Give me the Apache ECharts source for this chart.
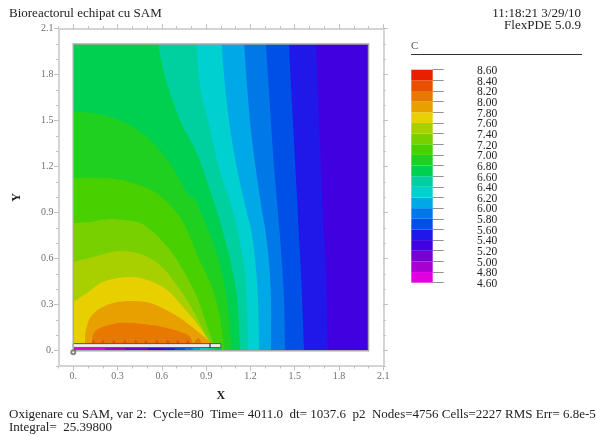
<!DOCTYPE html>
<html>
<head>
<meta charset="utf-8">
<style>
html,body{margin:0;padding:0;background:#fff}
#c{width:596px;height:437px;filter:blur(0.45px)}
</style>
<script src="https://cdn.jsdelivr.net/npm/echarts@6/dist/echarts.min.js"></script>
</head>
<body>
<div id="c"></div>
<script>
// ---- texts ----
const titleText = 'Bioreactorul echipat cu SAM';
const stampText = '11:18:21 3/29/10';
const versionText = 'FlexPDE 5.0.9';
const legendName = 'C';
const footerLine1 = 'Oxigenare cu SAM, var 2:  Cycle=80  Time= 4011.0  dt= 1037.6  p2  Nodes=4756 Cells=2227 RMS Err= 6.8e-5';
const footerLine2 = 'Integral=  25.39800';

// ---- axis ticks ----
const majorTicks = [0, 0.3, 0.6, 0.9, 1.2, 1.5, 1.8, 2.1];

// ---- colour bands, lowest (4.6-4.8) to highest (8.4-8.6) ----
const bandLevels = [4.6,4.8,5.0,5.2,5.4,5.6,5.8,6.0,6.2,6.4,6.6,6.8,7.0,7.2,7.4,7.6,7.8,8.0,8.2,8.4,8.6];
const bandColors = ['#e000e0','#a800d0','#7800d0','#4000e0','#2018e8','#0050e8','#0078e8','#00a8e8','#00d0d0','#00d0a0','#00d050','#20d020','#48d000','#78d000','#a8d000','#e8d000','#e8a000','#e87800','#e85000','#e82000'];

// ---- contour lines, [X, Y] ----
const domain = [[0,0],[2,0],[2,2],[0,2]];
const c54 = [[1.644,2],[1.665,1.504],[1.688,.95],[1.712,.493],[1.724,0]];
const c56 = [[1.461,2],[1.48,1.634],[1.518,.95],[1.543,.493],[1.563,0]];
const c58 = [[1.304,2],[1.326,1.686],[1.355,1.256],[1.382,.95],[1.407,.656],[1.428,.33],[1.434,0]];
const c60 = [[1.158,2],[1.175,1.752],[1.209,1.387],[1.272,.95],[1.304,.767],[1.328,.546],[1.339,.33],[1.339,0]];
const c62 = [[1.005,2],[1.021,1.797],[1.05,1.537],[1.095,1.256],[1.163,.95],[1.209,.767],[1.236,.546],[1.251,.33],[1.26,0]];
const c64 = [[.836,2],[.845,1.83],[.872,1.66],[.913,1.504],[.966,1.276],[1.021,1.08],[1.061,.982],[1.116,.767],[1.158,.546],[1.175,.33],[1.186,0]];
const c66 = [[.576,2],[.621,1.786],[.723,1.504],[.836,1.289],[.949,.982],[1.016,.767],[1.073,.546],[1.111,.33],[1.13,0]];
const c68 = [[0,1.563],[.201,1.537],[.384,1.471],[.52,1.374],[.655,1.224],[.77,1.028],[.825,.982],[.919,.774],[.993,.559],[1.041,.33],[1.073,0]];
const c70 = [[0,1.126],[.2,1.126],[.337,1.11],[.499,1.06],[.621,.982],[.743,.84],[.845,.611],[.939,.415],[.993,.22],[1.021,0]];
const c72 = [[0,.832],[.113,.839],[.249,.858],[.432,.839],[.54,.774],[.655,.656],[.743,.526],[.838,.35],[.892,.2],[.939,.07],[.953,.044]];
const c74 = [[0,.578],[.133,.611],[.316,.65],[.472,.624],[.587,.559],[.675,.461],[.77,.33],[.845,.2],[.913,.07],[.939,.044]];
const c76 = [[0,.317],[.093,.376],[.201,.448],[.364,.48],[.499,.461],[.635,.396],[.743,.285],[.845,.168],[.926,.057],[.935,.044]];
const c78 = [[.079,.044],[.086,.135],[.127,.233],[.228,.298],[.364,.324],[.52,.311],[.655,.252],[.77,.181],[.872,.102],[.939,.05]];
const c80 = [[.133,.044],[.133,.102],[.181,.148],[.316,.181],[.472,.174],[.635,.148],[.777,.102],[.811,.05],[.845,.083],[.872,.044]];
const contours = [domain,c54,c56,c58,c60,c62,c64,c66,c68,c70,c72,c74,c76,c78,c80];
const contourColors = ['#4000e0','#2018e8','#0050e8','#0078e8','#00a8e8','#00d0d0','#00d0a0','#00d050','#20d020','#48d000','#78d000','#a8d000','#e8d000','#e8a000','#e87800'];

// small 8.2 peaks on top of the plate
const peakX = [.136,.201,.275,.35,.424,.492,.566,.64,.708,.776];
const peakTop = 0.074;
const peakBase = 0.046;
const peakWidth = 0.014;

// thin strip under the plate: right-hand X of each colour
const stripEnds = [.215,.35,.506,.621,.689,.757,.81,.858,.906,.953,1.007];
const stripColors = ['#e000e0','#a800d0','#7800d0','#4000e0','#2018e8','#0050e8','#0078e8','#00a8e8','#00d0d0','#00d0a0','#00d050'];
const stripY = [0, 0.02];

// the plate itself
const plateX = [0, 1.0];
const plateY = [0.02, 0.046];

const originMark = [0, -0.01];
const plateMark = [0.926, 0.033];

// rounded drawing of a contour (Catmull-Rom through the pixel positions of its read points)
function rounded(px){
  if (px.length < 3) return px;
  const out = [];
  for (let i = 0; i < px.length - 1; i++){
    const p0 = px[Math.max(i-1,0)], p1 = px[i], p2 = px[i+1], p3 = px[Math.min(i+2,px.length-1)];
    for (let k = 0; k < 8; k++){
      const t = k/8, t2 = t*t, t3 = t2*t;
      out.push([0,1].map(d => 0.5*(2*p1[d]+(p2[d]-p0[d])*t+(2*p0[d]-5*p1[d]+4*p2[d]-p3[d])*t2+(3*p1[d]-p0[d]-3*p2[d]+p3[d])*t3)));
    }
  }
  out.push(px[px.length-1]);
  return out;
}
function contourShape(i, api){
  const p = contours[i];
  if (p === domain) return p.map(q => api.coord(q));
  const curve = rounded(p.map(q => api.coord(q)));
  const first = p[0], last = p[p.length-1];
  if (first[1] < 0.1) return curve;              // island sitting on the plate
  return curve.concat([api.coord([0,last[1]]), api.coord([0,first[1]])]);
}
function axisLabelText(v){ return v === 0 ? '0.' : v.toFixed(1); }

const serif = '"Liberation Serif", serif';
const lineCol = '#d4d4d4', tickCol = '#c0c0c0';

function xAx(pos, major, labels){
  const a = {type:'value',position:pos,min:-0.1,max:2.1,gridIndex:0,
    axisLine:{show:major,onZero:false,lineStyle:{color:lineCol,width:2}},splitLine:{show:false},
    axisTick:{show:true,length:major?4.5:2.5,lineStyle:{color:tickCol,width:1}},
    axisLabel:{show:false}};
  if(major){a.axisTick.customValues=majorTicks;}
  else{a.interval=0.1;}
  if(labels){a.axisLabel={show:true,customValues:majorTicks,formatter:axisLabelText,fontFamily:serif,fontSize:10,color:'#707070',margin:5};
    a.name='X';a.nameLocation='middle';a.nameGap=24;a.nameTextStyle={fontFamily:serif,fontSize:12,color:'#222',fontWeight:'bold'};}
  return a;
}
function yAx(pos, major, labels){
  const a = xAx(pos, major, false);
  if(labels){a.axisLabel={show:true,customValues:majorTicks,formatter:axisLabelText,fontFamily:serif,fontSize:10,color:'#707070',margin:5};
    a.name='Y';a.nameLocation='middle';a.nameGap=36;a.nameTextStyle={fontFamily:serif,fontSize:12,color:'#222',fontWeight:'bold'};}
  return a;
}

const T = (text,x,y,size,color,align) => ({type:'text',x,y,silent:true,style:{text,x:0,y:0,fontFamily:serif,fontSize:size,fill:color,align:align||'left',verticalAlign:'middle'}});

const option = {
  animation:false,
  backgroundColor:'#fff',
  grid:[
    {left:58.5,top:28.6,width:324.8,height:337.4,containLabel:false},
    {left:411.3,top:69.7,width:21.4,height:213,containLabel:false}
  ],
  xAxis:[xAx('bottom',true,true),xAx('bottom',false,false),xAx('top',true,false),xAx('top',false,false),
    {type:'value',gridIndex:1,min:0,max:1,show:false}],
  yAxis:[yAx('left',true,true),yAx('left',false,false),yAx('right',true,false),yAx('right',false,false),
    {type:'value',gridIndex:1,position:'right',min:4.6,max:8.6,
     axisLine:{show:false,onZero:false},splitLine:{show:false},
     axisTick:{show:true,length:11,customValues:bandLevels,lineStyle:{color:'#909090',width:1}},
     axisLabel:{show:false}}],
  graphic:[
    T(titleText,9,14,13,'#222'),
    T(stampText,581,14,13,'#222','right'),
    T(versionText,581,26,13,'#222','right'),
    T(legendName,411,46,11,'#555'),
    {type:'line',silent:true,shape:{x1:411,y1:54.5,x2:582,y2:54.5},style:{stroke:'#333',lineWidth:1}},
    T(footerLine1,9,415,13,'#222'),
    T(footerLine2,9,428,13,'#222')
  ],
  series:[
    {type:'custom',xAxisIndex:0,yAxisIndex:0,silent:true,data:contours.map((c,i)=>i),
     renderItem:(p,api)=>{const i=api.value(0);
       return {type:'polygon',shape:{points:contourShape(i,api)},style:{fill:contourColors[i]}};}},
    {type:'custom',xAxisIndex:0,yAxisIndex:0,silent:true,data:peakX,
     renderItem:(p,api)=>{const x=api.value(0);
       return {type:'polygon',shape:{points:[[x-peakWidth,peakBase],[x,peakTop],[x+peakWidth,peakBase]].map(q=>api.coord(q))},style:{fill:'#e85000'}};}},
    {type:'custom',xAxisIndex:0,yAxisIndex:0,silent:true,data:stripEnds.map((c,i)=>i),
     renderItem:(p,api)=>{const i=api.value(0),x0=i?stripEnds[i-1]:0,x1=stripEnds[i];
       return {type:'polygon',shape:{points:[[x0,stripY[0]],[x1,stripY[0]],[x1,stripY[1]],[x0,stripY[1]]].map(q=>api.coord(q))},style:{fill:stripColors[i]}};}},
    {type:'custom',xAxisIndex:0,yAxisIndex:0,silent:true,data:[0],
     renderItem:(p,api)=>({type:'polygon',shape:{points:[[plateX[0],plateY[0]],[plateX[1],plateY[0]],[plateX[1],plateY[1]],[plateX[0],plateY[1]]].map(q=>api.coord(q))},style:{fill:'#ececec',stroke:'#555',lineWidth:1}})},
    {type:'custom',xAxisIndex:0,yAxisIndex:0,silent:true,data:[0],
     renderItem:(p,api)=>({type:'polygon',shape:{points:domain.map(q=>api.coord(q))},style:{fill:'none',stroke:'#a8a8a8',lineWidth:1.5}})},
    {type:'scatter',xAxisIndex:0,yAxisIndex:0,silent:true,data:[originMark],symbol:'emptyCircle',symbolSize:4,itemStyle:{color:'#666',borderColor:'#666'}},
    {type:'scatter',xAxisIndex:0,yAxisIndex:0,silent:true,data:[plateMark],symbol:'rect',symbolSize:[1.5,5],itemStyle:{color:'#333'}},
    {type:'custom',xAxisIndex:4,yAxisIndex:4,silent:true,data:bandColors.map((c,i)=>i),
     renderItem:(p,api)=>{const i=api.value(0),a=api.coord([0,bandLevels[i+1]]),b=api.coord([1,bandLevels[i]]);
       return {type:'rect',shape:{x:a[0],y:a[1],width:b[0]-a[0],height:b[1]-a[1]},style:{fill:bandColors[i]}};}},
    {type:'custom',xAxisIndex:4,yAxisIndex:4,silent:true,clip:false,data:bandLevels.map((c,i)=>i),
     renderItem:(p,api)=>{const v=bandLevels[api.value(0)],a=api.coord([1,v]);
       return {type:'text',x:a[0]+44.3,y:a[1]+1.3,style:{text:v.toFixed(2),x:0,y:0,fontFamily:serif,fontSize:11.5,fill:'#222',align:'left',verticalAlign:'middle'}};}}
  ]
};
const chart = echarts.init(document.getElementById('c'),null,{renderer:'canvas',width:596,height:437});
chart.setOption(option);
</script>
</body>
</html>
